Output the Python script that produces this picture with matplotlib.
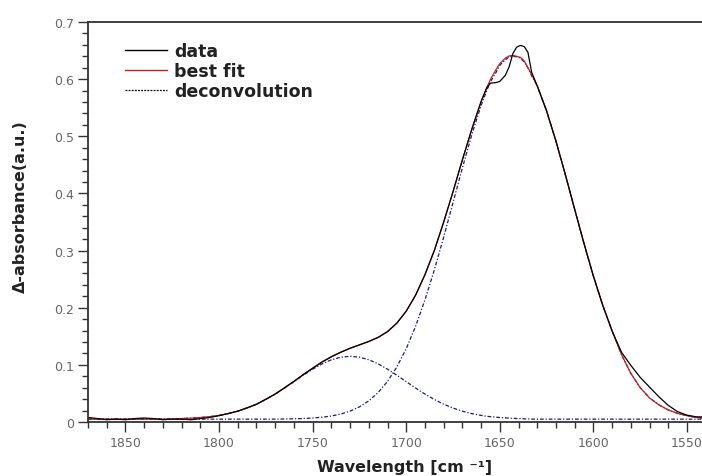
import matplotlib
matplotlib.use("Agg")
import matplotlib.pyplot as plt
from matplotlib.ticker import MultipleLocator

# wavenumber grid (cm-1)
wavenumber = [1870, 1865, 1860, 1855, 1850, 1845, 1840, 1835, 1830, 1825,
              1820, 1815, 1810, 1805, 1800, 1795, 1790, 1785, 1780, 1775,
              1770, 1765, 1760, 1755, 1750, 1745, 1740, 1735, 1730, 1725,
              1720, 1715, 1710, 1705, 1700, 1695, 1690, 1685, 1680, 1675,
              1670, 1665, 1660, 1657, 1655, 1652, 1650, 1647, 1645, 1643,
              1641, 1639, 1637, 1635, 1633, 1630, 1625, 1620, 1615, 1610,
              1605, 1600, 1595, 1590, 1585, 1580, 1575, 1570, 1565, 1560,
              1555, 1550, 1545, 1542]

data = [0.008, 0.006, 0.004, 0.005, 0.004, 0.006, 0.007, 0.006, 0.004, 0.005,
        0.005, 0.004, 0.006, 0.008, 0.011, 0.015, 0.019, 0.025, 0.031, 0.040,
        0.049, 0.060, 0.071, 0.083, 0.094, 0.105, 0.114, 0.122, 0.129, 0.135,
        0.141, 0.148, 0.158, 0.173, 0.194, 0.222, 0.258, 0.300, 0.350, 0.403,
        0.459, 0.512, 0.561, 0.585, 0.593, 0.594, 0.596, 0.607, 0.622, 0.645,
        0.656, 0.659, 0.657, 0.647, 0.612, 0.588, 0.544, 0.491, 0.433, 0.372,
        0.312, 0.255, 0.204, 0.159, 0.122, 0.099, 0.078, 0.061, 0.044, 0.029,
        0.018, 0.012, 0.009, 0.009]

best_fit = [0.005, 0.005, 0.005, 0.005, 0.005, 0.005, 0.005, 0.005, 0.005, 0.0053,
            0.006, 0.0067, 0.0078, 0.0093, 0.0116, 0.0147, 0.0189, 0.0244, 0.0312, 0.0394,
            0.0489, 0.0597, 0.0712, 0.0829, 0.0944, 0.1051, 0.1144, 0.1223, 0.129, 0.1349,
            0.1409, 0.1483, 0.1585, 0.1733, 0.1941, 0.222, 0.2576, 0.3005, 0.3498, 0.4034,
            0.4587, 0.5123, 0.5606, 0.585, 0.5998, 0.617, 0.6273, 0.637, 0.6407, 0.6415,
            0.640, 0.638, 0.632, 0.6201, 0.608, 0.5881, 0.5443, 0.4914, 0.4327, 0.3718,
            0.3118, 0.2551, 0.2039, 0.1592, 0.118, 0.085, 0.060, 0.042, 0.030, 0.021,
            0.015, 0.011, 0.008, 0.007]

peak_1730 = [0.005, 0.005, 0.005, 0.005, 0.005, 0.005, 0.005, 0.005, 0.005, 0.0053,
             0.006, 0.0067, 0.0078, 0.0093, 0.0116, 0.0147, 0.0189, 0.0244, 0.0312, 0.0394,
             0.0489, 0.0594, 0.0706, 0.0818, 0.0924, 0.1017, 0.1089, 0.1134, 0.115, 0.1134,
             0.1089, 0.1017, 0.0924, 0.0818, 0.0706, 0.0594, 0.0489, 0.0394, 0.0312, 0.0244,
             0.0189, 0.0147, 0.0116, 0.010, 0.0093, 0.0085, 0.0078, 0.0072, 0.0067, 0.0064,
             0.0061, 0.0059, 0.0056, 0.0053, 0.0051, 0.005, 0.005, 0.005, 0.005, 0.005,
             0.005, 0.005, 0.005, 0.005, 0.005, 0.005, 0.005, 0.005, 0.005, 0.005,
             0.005, 0.005, 0.005, 0.005]

peak_1643 = [0.005, 0.005, 0.005, 0.005, 0.005, 0.005, 0.005, 0.005, 0.005, 0.005,
             0.005, 0.005, 0.005, 0.005, 0.005, 0.005, 0.005, 0.005, 0.005, 0.005,
             0.005, 0.0053, 0.0056, 0.0061, 0.007, 0.0084, 0.0105, 0.0139, 0.019, 0.0265,
             0.037, 0.0516, 0.0711, 0.0965, 0.1285, 0.1676, 0.2137, 0.2661, 0.3236, 0.384,
             0.4448, 0.5026, 0.554, 0.580, 0.5955, 0.612, 0.6245, 0.634, 0.639, 0.640,
             0.639, 0.637, 0.630, 0.6198, 0.606, 0.5881, 0.5443, 0.4914, 0.4327, 0.3718,
             0.3118, 0.2551, 0.2039, 0.1592, 0.118, 0.085, 0.060, 0.042, 0.030, 0.021,
             0.015, 0.011, 0.008, 0.007]

navy = "#1c1c6e"

fig = plt.figure(figsize=(7.02, 4.77), dpi=100)
ax = fig.add_axes([0.1254, 0.1132, 0.8746, 0.8386])

ax.plot(wavenumber, peak_1643, color=navy, lw=0.9, ls=(0, (3, 1.5, 1, 1.5)))
ax.plot(wavenumber, peak_1730, color=navy, lw=0.9, ls=(0, (3, 1.5, 1, 1.5)))
ax.plot(wavenumber, best_fit, color="#c42020", lw=0.9)
ax.plot(wavenumber, data, color="black", lw=0.9)

# legend drawn with proxy lines
h1, = ax.plot([], [], color="black", lw=1.0)
h2, = ax.plot([], [], color="#c42020", lw=1.0)
h3, = ax.plot([], [], color="black", lw=0.9, ls=(0, (1.5, 1)))
leg = ax.legend([h1, h2, h3], ["data", "best fit", "deconvolution"],
                loc="upper left", bbox_to_anchor=(0.035, 0.99), frameon=False,
                handlelength=2.4, handletextpad=0.4, labelspacing=0.12,
                prop={"weight": "bold", "size": 12.5})
for t in leg.get_texts():
    t.set_color("#222222")

ax.set_xlim(1870, 1542)
ax.set_ylim(0, 0.7)
ax.xaxis.set_major_locator(MultipleLocator(50))
ax.xaxis.set_minor_locator(MultipleLocator(10))
ax.yaxis.set_minor_locator(MultipleLocator(0.02))
ax.set_yticks([0, 0.1, 0.2, 0.3, 0.4, 0.5, 0.6, 0.7])
ax.set_yticklabels(["0", "0.1", "0.2", "0.3", "0.4", "0.5", "0.6", "0.7"])

ax.tick_params(which="major", length=7, width=1, color="#333333",
               labelsize=9, labelcolor="#666666", pad=3)
ax.tick_params(which="minor", length=4, width=1, color="#333333")

for side in ["left", "bottom", "top"]:
    ax.spines[side].set_color("#333333")
    ax.spines[side].set_linewidth(1.3)
ax.spines["right"].set_visible(False)

ax.set_ylabel("Δ-absorbance(a.u.)", fontsize=11.5, fontweight="bold", color="#222222")
ax.yaxis.set_label_coords(-0.098, 0.54)
ax.set_xlabel("Wavelength [cm ⁻¹]", fontsize=11.5, fontweight="bold", color="#222222")
ax.xaxis.set_label_coords(0.515, -0.092)

fig.savefig("out.png", dpi=100)
